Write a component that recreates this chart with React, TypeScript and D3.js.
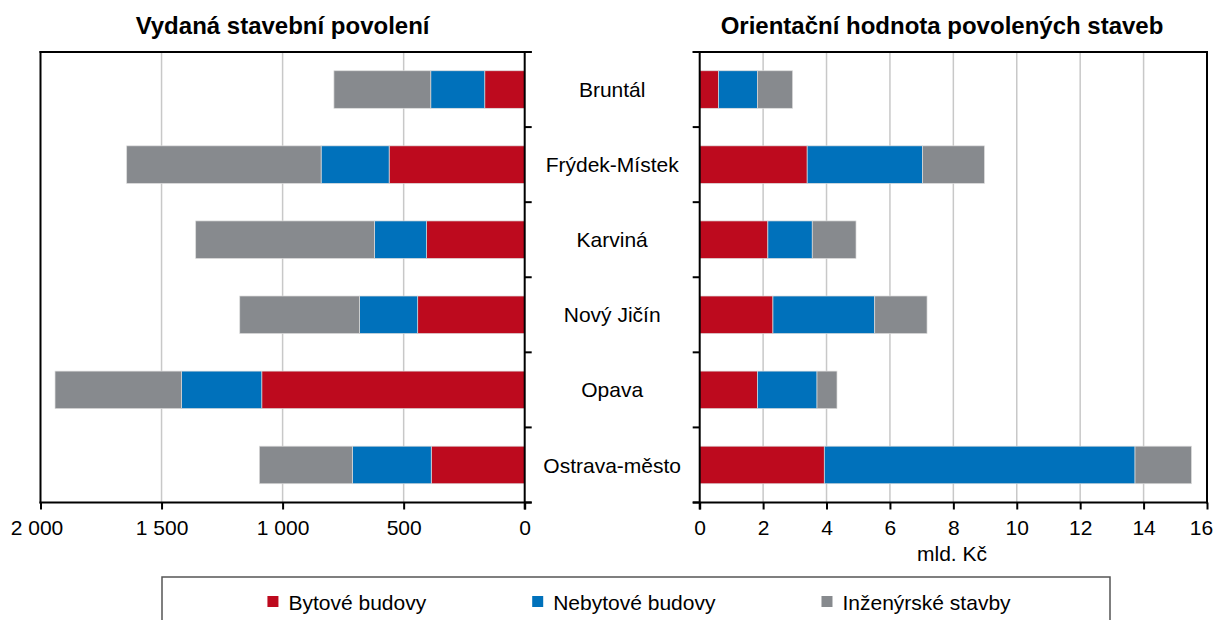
import React, { useEffect, useRef } from "react";
import * as d3 from "d3";

// okresy Moravskoslezského kraje
const districts = ["Bruntál", "Frýdek-Místek", "Karviná", "Nový Jičín", "Opava", "Ostrava-město"];
const seriesKeys = ["res", "nonres", "eng"];
const seriesNames = ["Bytové budovy", "Nebytové budovy", "Inženýrské stavby"];
const seriesColors = ["#bd0a1e", "#0071bb", "#878a8e"];

// vydaná stavební povolení (počet)
const permitsResidential = [165, 560, 405, 442, 1086, 386];
const permitsNonResidential = [223, 281, 216, 240, 331, 326];
const permitsEngineering = [400, 803, 738, 495, 523, 384];

// orientační hodnota (mld. Kč)
const valueResidential = [0.59, 3.39, 2.15, 2.31, 1.82, 3.93];
const valueNonResidential = [1.23, 3.64, 1.4, 3.21, 1.88, 9.8];
const valueEngineering = [1.11, 1.95, 1.38, 1.65, 0.63, 1.78];

const permitTicks = [0, 500, 1000, 1500, 2000];
const valueTicks = [0, 2, 4, 6, 8, 10, 12, 14, 16];

const W = 1217;
const H = 620;
const FONT = 'Arial, "Liberation Sans", sans-serif';

const cz = d3.formatLocale({ decimal: ",", thousands: "\u00a0", grouping: [3], currency: ["", " Kč"] });
const fmtInt = cz.format(",d");

function App() {
  const ref = useRef<SVGSVGElement>(null);

  useEffect(() => {
    document.body.style.margin = "0";
    const svg = d3.select(ref.current);
    svg.selectAll("*").remove();
    svg.style("font-family", FONT);

    const top = 52;
    const bottom = 502.5;

    const y = d3.scaleBand().domain(districts).range([top, bottom]).paddingInner(0.5).paddingOuter(0.25);
    const bounds = d3.range(districts.length + 1).map((i) => top + (i * (bottom - top)) / districts.length);

    const stack = d3.stack<any>().keys(seriesKeys);
    const permitRows = districts.map((d, i) => ({
      district: d,
      res: permitsResidential[i],
      nonres: permitsNonResidential[i],
      eng: permitsEngineering[i],
    }));
    const valueRows = districts.map((d, i) => ({
      district: d,
      res: valueResidential[i],
      nonres: valueNonResidential[i],
      eng: valueEngineering[i],
    }));

    const xL = d3.scaleLinear().domain([0, 2000]).range([524.7, 40.5]);
    const xR = d3.scaleLinear().domain([0, 16]).range([699.7, 1207]);

    function drawPanel(x: d3.ScaleLinear<number, number>, rows: any[], ticks: number[], fmt: (v: number) => string) {
      const g = svg.append("g");
      const [r0, r1] = x.range();
      const xMin = Math.min(r0, r1);
      const xMax = Math.max(r0, r1);

      // mřížka
      g.append("g")
        .selectAll("line")
        .data(ticks.filter((t) => t !== ticks[0] && t !== ticks[ticks.length - 1]))
        .join("line")
        .attr("x1", (d) => x(d))
        .attr("x2", (d) => x(d))
        .attr("y1", top)
        .attr("y2", bottom)
        .attr("stroke", "#c8c8c8")
        .attr("stroke-width", 1.5);

      // sloupce
      const layers = stack(rows);
      g.append("g")
        .selectAll("g")
        .data(layers)
        .join("g")
        .attr("fill", (_d, i) => seriesColors[i])
        .selectAll("rect")
        .data((d) => d)
        .join("rect")
        .attr("x", (d) => Math.min(x(d[0]), x(d[1])))
        .attr("width", (d) => Math.abs(x(d[1]) - x(d[0])))
        .attr("y", (d) => y(d.data.district)!)
        .attr("height", y.bandwidth())
        .attr("stroke", "#dcdcdc")
        .attr("stroke-width", 0.7);

      // osa x
      const ax = g
        .append("g")
        .attr("transform", `translate(0,${bottom})`)
        .call(d3.axisBottom(x).tickValues(ticks).tickSize(7).tickSizeOuter(0).tickPadding(11).tickFormat(fmt as any));
      ax.select(".domain").remove();
      ax.selectAll(".tick line").attr("stroke", "#000").attr("stroke-width", 2);
      ax.selectAll(".tick text").attr("font-size", 21).attr("font-family", FONT).attr("fill", "#000").attr("dy", "0.71em");

      return { g, ax, xMin, xMax };
    }

    const left = drawPanel(xL, permitRows, permitTicks, (v) => fmtInt(v));
    const right = drawPanel(xR, valueRows, valueTicks, (v) => String(v));

    // krajní popisky posunout dovnitř obrázku
    left.ax.selectAll(".tick text").filter((d: any) => d === permitTicks[permitTicks.length - 1]).attr("dx", -4);
    right.ax.selectAll(".tick text").filter((d: any) => d === valueTicks[valueTicks.length - 1]).attr("dx", -6);

    const line = (g: any, x1: number, y1: number, x2: number, y2: number) =>
      g.append("line").attr("x1", x1).attr("y1", y1).attr("x2", x2).attr("y2", y2).attr("stroke", "#000").attr("stroke-width", 2);

    // rámeček levého grafu, osa kategorií vpravo
    line(left.g, left.xMin, top - 1, left.xMin, bottom + 1);
    line(left.g, left.xMin - 1, top, left.xMax + 7, top);
    line(left.g, left.xMin - 1, bottom, left.xMax + 7, bottom);
    line(left.g, left.xMax, top - 1, left.xMax, bottom + 7);
    bounds.forEach((b) => line(left.g, left.xMax, b, left.xMax + 7, b));

    // rámeček pravého grafu, osa kategorií vlevo
    line(right.g, right.xMin, top - 1, right.xMin, bottom + 7);
    line(right.g, right.xMin - 7, top, right.xMax + 1, top);
    line(right.g, right.xMin - 7, bottom, right.xMax + 1, bottom);
    line(right.g, right.xMax, top - 1, right.xMax, bottom + 1);
    bounds.forEach((b) => line(right.g, right.xMin - 7, b, right.xMin, b));

    // názvy okresů
    svg
      .append("g")
      .selectAll("text")
      .data(districts)
      .join("text")
      .attr("x", (left.xMax + right.xMin) / 2)
      .attr("y", (d) => y(d)! + y.bandwidth() / 2)
      .attr("dy", "0.36em")
      .attr("text-anchor", "middle")
      .attr("font-size", 21)
      .attr("fill", "#000")
      .text((d) => d);

    // nadpisy
    svg
      .append("text")
      .attr("x", (left.xMin + left.xMax) / 2)
      .attr("y", 34)
      .attr("text-anchor", "middle")
      .attr("font-size", 24)
      .attr("font-weight", "bold")
      .text("Vydaná stavební povolení");
    svg
      .append("text")
      .attr("x", 942)
      .attr("y", 34)
      .attr("text-anchor", "middle")
      .attr("font-size", 24)
      .attr("font-weight", "bold")
      .text("Orientační hodnota povolených staveb");

    svg
      .append("text")
      .attr("x", 952)
      .attr("y", 561)
      .attr("text-anchor", "middle")
      .attr("font-size", 21)
      .text("mld. Kč");

    // legenda
    const boxX = 162;
    const boxW = 948;
    svg
      .append("rect")
      .attr("x", boxX)
      .attr("y", 577)
      .attr("width", boxW)
      .attr("height", 70)
      .attr("fill", "none")
      .attr("stroke", "#555")
      .attr("stroke-width", 1.5);

    const lg = svg.append("g");
    const items = lg
      .selectAll("g")
      .data(seriesNames)
      .join("g");
    items
      .append("rect")
      .attr("width", 11)
      .attr("height", 11)
      .attr("y", 596)
      .attr("fill", (_d, i) => seriesColors[i]);
    items
      .append("text")
      .attr("x", 21)
      .attr("y", 610)
      .attr("font-size", 21)
      .text((d) => d);

    const gap = 106;
    let cursor = 0;
    items.each(function () {
      const t = d3.select(this).select("text").node() as SVGTextElement;
      const w = 21 + t.getComputedTextLength();
      d3.select(this).attr("transform", `translate(${cursor},0)`);
      cursor += w + gap;
    });
    const total = cursor - gap;
    lg.attr("transform", `translate(${boxX + (boxW - total) / 2 + 3},0)`);
  }, []);

  return <svg ref={ref} width={W} height={H} style={{ display: "block", background: "#fff" }} />;
}

export default App;
